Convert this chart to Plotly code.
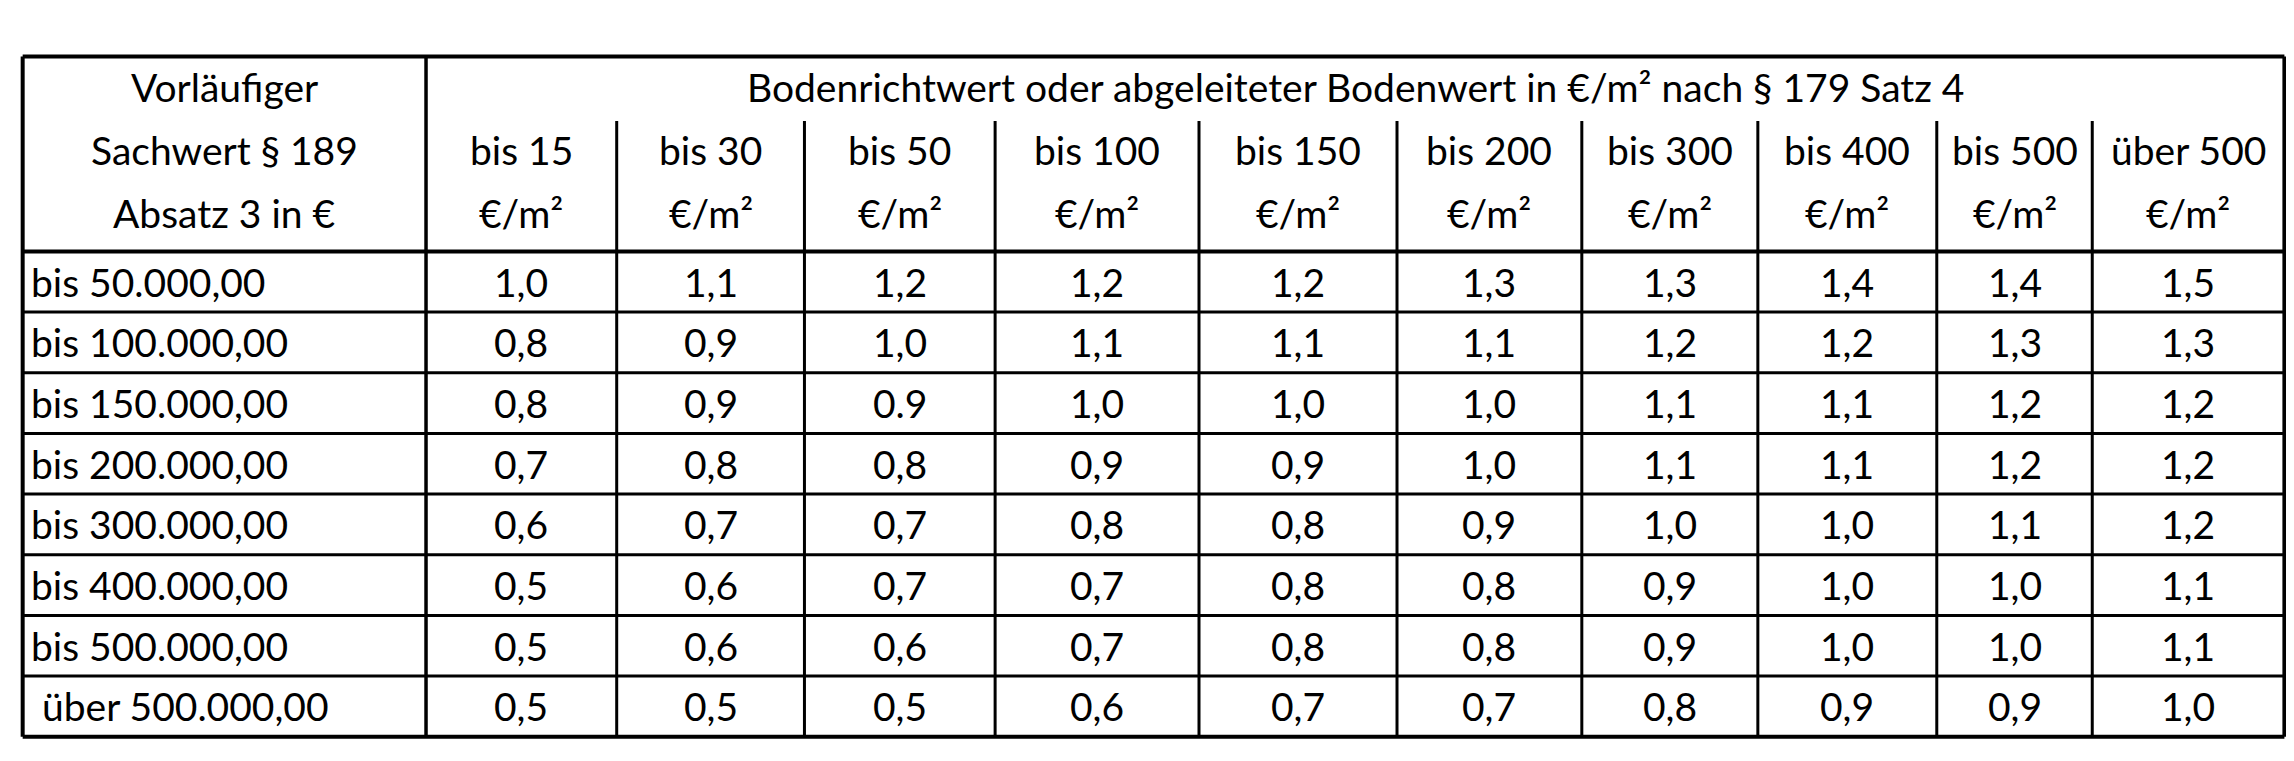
import plotly.graph_objects as go

row_labels = ["bis 50.000,00", "bis 100.000,00", "bis 150.000,00", "bis 200.000,00",
              "bis 300.000,00", "bis 400.000,00", "bis 500.000,00", "über 500.000,00"]
col_labels = ["bis 15", "bis 30", "bis 50", "bis 100", "bis 150", "bis 200",
              "bis 300", "bis 400", "bis 500", "über 500"]
values = [
    ["1,0", "1,1", "1,2", "1,2", "1,2", "1,3", "1,3", "1,4", "1,4", "1,5"],
    ["0,8", "0,9", "1,0", "1,1", "1,1", "1,1", "1,2", "1,2", "1,3", "1,3"],
    ["0,8", "0,9", "0.9", "1,0", "1,0", "1,0", "1,1", "1,1", "1,2", "1,2"],
    ["0,7", "0,8", "0,8", "0,9", "0,9", "1,0", "1,1", "1,1", "1,2", "1,2"],
    ["0,6", "0,7", "0,7", "0,8", "0,8", "0,9", "1,0", "1,0", "1,1", "1,2"],
    ["0,5", "0,6", "0,7", "0,7", "0,8", "0,8", "0,9", "1,0", "1,0", "1,1"],
    ["0,5", "0,6", "0,6", "0,7", "0,8", "0,8", "0,9", "1,0", "1,0", "1,1"],
    ["0,5", "0,5", "0,5", "0,6", "0,7", "0,7", "0,8", "0,9", "0,9", "1,0"],
]
corner_title = ["Vorläufiger", "Sachwert § 189", "Absatz 3 in €"]
main_title = "Bodenrichtwert oder abgeleiteter Bodenwert in €/m² nach § 179 Satz 4"
unit = "€/m²"

xb = [10, 285, 415, 543, 673, 812, 947, 1073, 1193, 1315, 1421, 1552]
ytop, ysub, yhead = 33, 77, 166
rh = (497 - yhead) / len(row_labels)
ybot = yhead + rh * len(row_labels)
FONT = "Lato"
FS = 39

shapes, ann = [], []
def line(x0, y0, x1, y1, w):
    shapes.append(dict(type="line", x0=x0, y0=y0, x1=x1, y1=y1, xref="x", yref="y",
                       line=dict(color="black", width=w)))
line(xb[0], ytop, xb[-1], ytop, 4)
line(xb[0], ybot, xb[-1], ybot, 4)
line(xb[0], ytop, xb[0], ybot, 4)
line(xb[-1], ytop, xb[-1], ybot, 4)
line(xb[1], ytop, xb[1], ybot, 3.5)
line(xb[0], yhead, xb[-1], yhead, 4)
for x in xb[2:-1]:
    line(x, ysub, x, ybot, 3)
for i in range(1, len(row_labels)):
    line(xb[0], yhead + i * rh, xb[-1], yhead + i * rh, 3)

def txt(x, y, t, anchor="center"):
    ann.append(dict(x=x, y=y, text=t, xref="x", yref="y", showarrow=False, xanchor=anchor,
                    yanchor="middle", font=dict(family=FONT, size=FS, color="black")))

for k, t in enumerate(corner_title):
    txt((xb[0] + xb[1]) / 2, 54 + k * 43, t)
txt((xb[1] + xb[-1]) / 2, 54, main_title)
for j, c in enumerate(col_labels):
    cx = (xb[j + 1] + xb[j + 2]) / 2
    txt(cx, 97, c)
    txt(cx, 140, unit)
for i, r in enumerate(row_labels):
    cy = yhead + (i + 0.5) * rh
    txt(xb[0] + 4 + (8 if r.startswith("ü") else 0), cy, r, "left")
    for j, v in enumerate(values[i]):
        txt((xb[j + 1] + xb[j + 2]) / 2, cy, v)

fig = go.Figure()
fig.update_layout(width=2294, height=761, margin=dict(l=0, r=0, t=0, b=0),
                  paper_bgcolor="white", plot_bgcolor="white", shapes=shapes, annotations=ann,
                  xaxis=dict(range=[0, 1564], visible=False, fixedrange=True),
                  yaxis=dict(range=[519, 0], visible=False, fixedrange=True))
fig.write_html("out.html")
